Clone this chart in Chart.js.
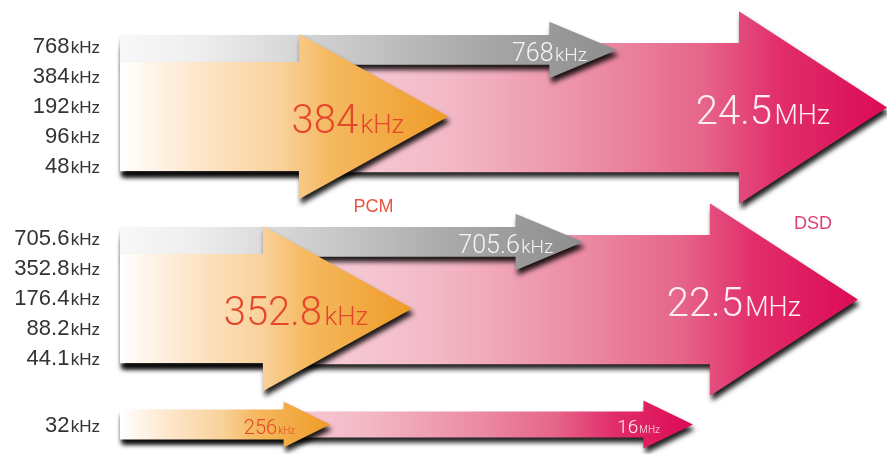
<!DOCTYPE html>
<html>
<head>
<meta charset="utf-8">
<script src="https://cdn.jsdelivr.net/npm/chart.js@4"></script>
<style>
  html, body { margin: 0; padding: 0; background: #fff; }
  #wrap { width: 887px; height: 454px; position: relative; }
</style>
</head>
<body>
<div id="wrap"><canvas id="rateChart"></canvas></div>
<script>
// sampling rates listed on the left, top to bottom
const rowLabels = ['768kHz', '384kHz', '192kHz', '96kHz', '48kHz',
                   '705.6kHz', '352.8kHz', '176.4kHz', '88.2kHz', '44.1kHz',
                   '32kHz'];
const rowPos = [1, 2, 3, 4, 5, 7.4, 8.4, 9.4, 10.4, 11.4, 13.65];

// arrow lengths (relative units) and the rows each arrow covers
const dsdRates = ['24.5MHz', '22.5MHz', '16MHz'];
const dsdLength = [100, 96.2, 74.7];
const dsdRows = [[0, 4], [5, 9], [10, 10]];

const dxdRates = ['768kHz', '705.6kHz'];
const dxdLength = [64.8, 60.4];
const dxdRows = [[0, 0], [5, 5]];

const pcmRates = ['384kHz', '352.8kHz', '256kHz'];
const pcmLength = [42.8, 38.1, 27.4];
const pcmRows = [[1, 4], [6, 9], [10, 10]];

const kinds = {
    dsd: {
        padTop: 0.07, padBottom: 0.24, padSingle: 0.43,
        extra: 0.245, minExtra: 11, lenA: 0.68, lenB: 17,
        stops: [[0, '#fdf2f5'], [0.43, '#f3b8c6'], [0.63, '#eb8aa3'], [0.76, '#e6658a'], [0.86, '#e12e6b'], [1, '#dc0a55']],
        text: '#fdeef2', big: [40, 27], small: [19, 10], offBig: 57, offSmall: 33
    },
    dxd: {
        padTop: 0.33, padBottom: 0.66, padSingle: null,
        extra: 0.45, minExtra: 0, lenA: 1.2, lenB: 0,
        stops: [[0, '#f8f8f8'], [0.16, '#eeeeee'], [0.36, '#d5d5d5'], [0.66, '#b0b0b0'], [0.86, '#9a9a9a'], [1, '#8e8e8e']],
        text: '#f4f4f4', big: [25, 19], small: [25, 19], offBig: 30, offSmall: 30
    },
    pcm: {
        padTop: 0.43, padBottom: 0.2, padSingle: 0.5,
        extra: 0.26, minExtra: 8, lenA: 0.86, lenB: 7,
        stops: [[0, '#ffffff'], [0.24, '#fde6c9'], [0.49, '#f9d19a'], [0.64, '#f5b960'], [0.94, '#f0a030'], [1, '#ef9c25']],
        text: '#e4472b', big: [40, 26], small: [20, 10], offBig: 44, offSmall: 35
    }
};

const series = [
    { kind: 'dsd', name: 'DSD', rates: dsdRates, lengths: dsdLength, rows: dsdRows },
    { kind: 'dxd', name: 'DXD', rates: dxdRates, lengths: dxdLength, rows: dxdRows },
    { kind: 'pcm', name: 'PCM', rates: pcmRates, lengths: pcmLength, rows: pcmRows }
];

const LIGHT = '"Roboto", "Liberation Sans", sans-serif';
const PLAIN = '"Liberation Sans", "Roboto", sans-serif';

function drawRate(ctx, label, xRight, yMid, sizes, color, weight, family) {
    const m = label.match(/^([\d.]+)(.*)$/);
    ctx.font = `${weight} ${sizes[0]}px ${family}`;
    const wNum = ctx.measureText(m[1]).width;
    ctx.font = `${weight} ${sizes[1]}px ${family}`;
    const wUnit = ctx.measureText(m[2]).width;
    const gap = sizes[0] * 0.06;
    const x0 = xRight - wNum - gap - wUnit;
    const base = yMid + sizes[0] * 0.36;
    ctx.fillStyle = color;
    ctx.textAlign = 'left';
    ctx.textBaseline = 'alphabetic';
    ctx.font = `${weight} ${sizes[0]}px ${family}`;
    ctx.fillText(m[1], x0, base);
    ctx.font = `${weight} ${sizes[1]}px ${family}`;
    ctx.fillText(m[2], x0 + wNum + gap, base);
}

function arrowGeom(chart, kindName, length, rows) {
    const k = kinds[kindName];
    const x = chart.scales.x, y = chart.scales.y;
    const single = rows[0] === rows[1] && k.padSingle !== null;
    const pt = single ? k.padSingle : k.padTop;
    const pb = single ? k.padSingle : k.padBottom;
    const top = y.getPixelForValue(rowPos[rows[0]] - pt);
    const bot = y.getPixelForValue(rowPos[rows[1]] + pb);
    const h = bot - top;
    const extra = Math.max(h * k.extra, k.minExtra);
    const headH = h + extra * 2;
    const headLen = headH * k.lenA + k.lenB;
    const x0 = x.getPixelForValue(0);
    const tip = x.getPixelForValue(length);
    return { x0, tip, top, bot, mid: (top + bot) / 2, headStart: tip - headLen,
             headTop: top - extra, headBot: bot + extra, single: rows[0] === rows[1] };
}

const arrowPlugin = {
    id: 'rateArrows',
    afterDatasetsDraw(chart) {
        const ctx = chart.ctx;
        const geoms = [];
        series.forEach(s => {
            const k = kinds[s.kind];
            s.lengths.forEach((len, i) => {
                const g = arrowGeom(chart, s.kind, len, s.rows[i]);
                geoms.push({ s, i, g });
                const grad = ctx.createLinearGradient(g.x0, 0, g.tip, 0);
                k.stops.forEach(st => grad.addColorStop(st[0], st[1]));
                ctx.save();
                ctx.shadowColor = 'rgba(0,0,0,0.88)';
                ctx.shadowBlur = 5;
                ctx.shadowOffsetX = 2;
                ctx.shadowOffsetY = 5;
                ctx.beginPath();
                ctx.moveTo(g.x0, g.top);
                ctx.lineTo(g.headStart, g.top);
                ctx.lineTo(g.headStart, g.headTop);
                ctx.lineTo(g.tip, g.mid);
                ctx.lineTo(g.headStart, g.headBot);
                ctx.lineTo(g.headStart, g.bot);
                ctx.lineTo(g.x0, g.bot);
                ctx.closePath();
                ctx.fillStyle = grad;
                ctx.fill();
                ctx.restore();
            });
        });

        // rate labels inside the arrows
        ctx.save();
        geoms.forEach(({ s, i, g }) => {
            const k = kinds[s.kind];
            const small = g.single && s.kind !== 'dxd';
            const sizes = small ? k.small : k.big;
            const off = small ? k.offSmall : k.offBig;
            drawRate(ctx, s.rates[i], g.tip - off, g.mid + 2, sizes, k.text, 300, LIGHT);
        });

        // series names under the first pair of arrows
        const pcmG = arrowGeom(chart, 'pcm', pcmLength[0], pcmRows[0]);
        const dsdG = arrowGeom(chart, 'dsd', dsdLength[0], dsdRows[0]);
        ctx.font = `400 18px ${PLAIN}`;
        ctx.textAlign = 'center';
        ctx.textBaseline = 'alphabetic';
        ctx.fillStyle = '#e8553f';
        ctx.fillText('PCM', (pcmG.headStart + pcmG.tip) / 2, pcmG.headBot + 13);
        ctx.fillStyle = '#df3f7a';
        ctx.fillText('DSD', (dsdG.headStart + dsdG.tip) / 2, dsdG.headBot + 25);

        // rate axis labels on the left
        const y = chart.scales.y;
        rowLabels.forEach((lab, i) => {
            drawRate(ctx, lab, chart.chartArea.left - 20, y.getPixelForValue(rowPos[i]),
                     [22, 17], '#333333', 400, PLAIN);
        });
        ctx.restore();
    }
};

const ctx = document.getElementById('rateChart').getContext('2d');
new Chart(ctx, {
    type: 'scatter',
    data: {
        datasets: series.map(s => ({
            label: s.name,
            data: s.lengths.map((v, i) => ({ x: v, y: (rowPos[s.rows[i][0]] + rowPos[s.rows[i][1]]) / 2 })),
            pointRadius: 0,
            pointHoverRadius: 0
        }))
    },
    options: {
        responsive: true,
        maintainAspectRatio: false,
        animation: false,
        layout: { autoPadding: false, padding: { left: 120, right: 0, top: 0, bottom: 0 } },
        scales: {
            x: { type: 'linear', min: 0, max: 100, display: false },
            y: { type: 'linear', min: -0.5, max: -0.5 + 454 / 30, reverse: true, display: false }
        },
        plugins: {
            legend: { display: false },
            tooltip: { enabled: false }
        }
    },
    plugins: [arrowPlugin]
});
</script>
</body>
</html>
